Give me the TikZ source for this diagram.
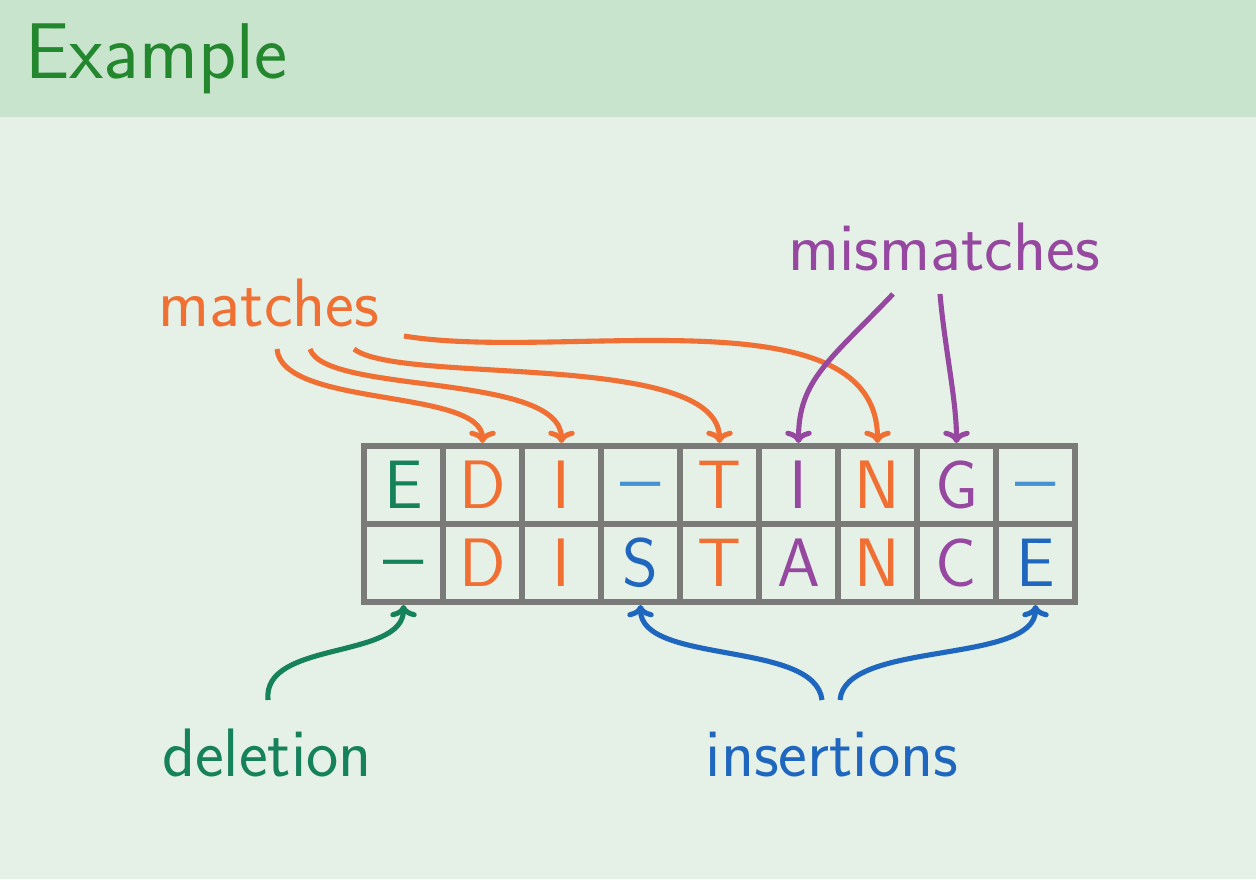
\documentclass[tikz,border=0pt]{standalone}
\usepackage{graphicx}
\usetikzlibrary{arrows.meta}
\definecolor{bgc}{RGB}{229,240,231}
\definecolor{headc}{RGB}{200,228,205}
\definecolor{titlec}{RGB}{35,135,45}
\definecolor{orc}{RGB}{240,112,52}
\definecolor{puc}{RGB}{150,72,160}
\definecolor{grc}{RGB}{22,130,92}
\definecolor{blc}{RGB}{30,102,190}
\definecolor{lbc}{RGB}{70,145,210}
\definecolor{gridc}{RGB}{122,122,120}
\newcommand{\dsh}{\raisebox{0.1em}{\scalebox{1.25}[1]{–}}}
\tikzset{
  cell/.style={draw=gridc, line width=3.4pt, minimum width=79*0.02cm, minimum height=78*0.02cm,
    inner sep=0pt, text height=27.2pt, text depth=0pt, font=\fontsize{39}{44}\sffamily},
  lbl/.style={anchor=base, inner sep=0pt, font=\fontsize{39}{44}\sffamily},
  arr/.style={line width=2.9pt, -{To[length=7pt,width=15pt]}}
}
\begin{document}
\begin{tikzpicture}[x=0.02cm, y=-0.02cm]
\useasboundingbox (0,0) rectangle (1256,879);
\fill[bgc] (0,0) rectangle (1256,879);
\fill[headc] (0,0) rectangle (1256,117);
\node[anchor=base west, inner sep=0pt, text=titlec, font=\fontsize{45}{50}\sffamily] (title) at (25,78) {Example};
% top row
\node[cell, text=grc] (a1) at (403.5,485) {E};
\node[cell, text=orc] (a2) at (482.5,485) {D};
\node[cell, text=orc] (a3) at (561.5,485) {I};
\node[cell, text=lbc] (a4) at (640.5,485) {\dsh};
\node[cell, text=orc] (a5) at (719.5,485) {T};
\node[cell, text=puc] (a6) at (798.5,485) {I};
\node[cell, text=orc] (a7) at (877.5,485) {N};
\node[cell, text=puc] (a8) at (956.5,485) {G};
\node[cell, text=lbc] (a9) at (1035.5,485) {\dsh};
% bottom row
\node[cell, text=grc] (b1) at (403.5,563) {\dsh};
\node[cell, text=orc] (b2) at (482.5,563) {D};
\node[cell, text=orc] (b3) at (561.5,563) {I};
\node[cell, text=blc] (b4) at (640.5,563) {S};
\node[cell, text=orc] (b5) at (719.5,563) {T};
\node[cell, text=puc] (b6) at (798.5,563) {A};
\node[cell, text=orc] (b7) at (877.5,563) {N};
\node[cell, text=puc] (b8) at (956.5,563) {C};
\node[cell, text=blc] (b9) at (1035.5,563) {E};
% labels
\node[lbl, text=orc] (matches) at (269,326) {matches};
\node[lbl, text=puc] (mism) at (944,270) {mismatches};
\node[lbl, text=grc] (del) at (267,776) {deletion};
\node[lbl, text=blc] (ins) at (832,776) {insertions};
% start points
\coordinate (m1) at (277,349);
\coordinate (m2) at (310,349);
\coordinate (m3) at (354,349);
\coordinate (m4) at (404,336);
\coordinate (p1) at (893,294);
\coordinate (p2) at (940,294);
\coordinate (d1) at (268,700);
\coordinate (i1) at (822,700);
\coordinate (i2) at (840,700);
% arrows
\draw[arr, orc] (m1) .. controls (282,408) and (482.5,388) .. (a2.north);
\draw[arr, orc] (m2) .. controls (325,395) and (561.5,372) .. (a3.north);
\draw[arr, orc] (m3) .. controls (400,385) and (719.5,350) .. (a5.north);
\draw[arr, orc] (m4) .. controls (560,362) and (877.5,290) .. (a7.north);
\draw[arr, puc] (p1) .. controls (830,360) and (798.5,380) .. (a6.north);
\draw[arr, puc] (p2) .. controls (945,350) and (956.5,400) .. (a8.north);
\draw[arr, grc] (d1) .. controls (262,640) and (403.5,660) .. (b1.south);
\draw[arr, blc] (i1) .. controls (815,640) and (640.5,665) .. (b4.south);
\draw[arr, blc] (i2) .. controls (845,640) and (1035.5,665) .. (b9.south);
\end{tikzpicture}
\end{document}
